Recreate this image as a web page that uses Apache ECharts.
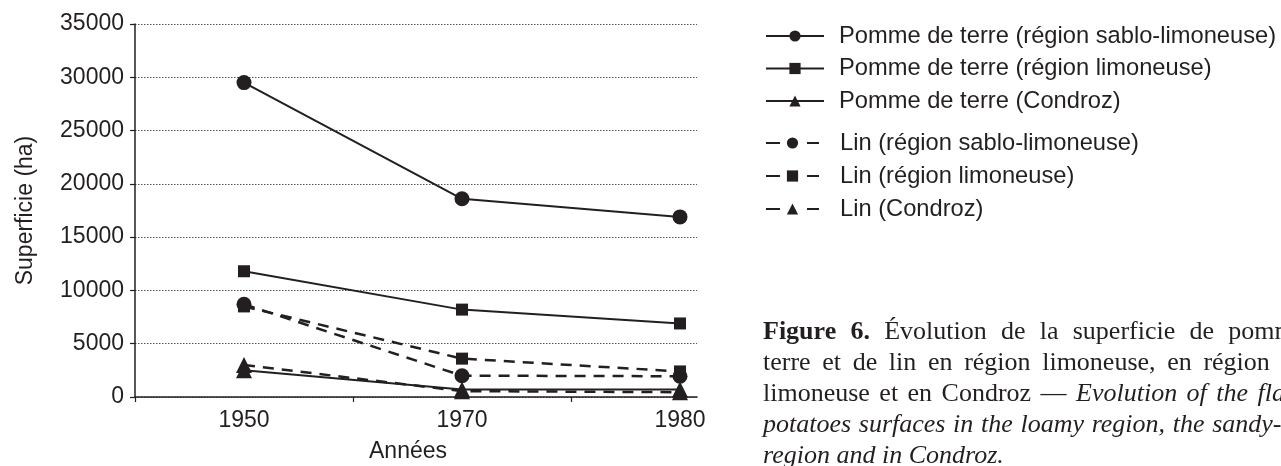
<!DOCTYPE html>
<html>
<head>
<meta charset="utf-8">
<script src="https://cdn.jsdelivr.net/npm/echarts@6/dist/echarts.min.js"></script>
<style>
  html, body { margin: 0; padding: 0; background: #fff; }
  #chart { width: 1281px; height: 466px; }
</style>
</head>
<body>
<div id="chart"></div>
<script>
// Superficie de pomme de terre et de lin, 1950-1980 (ha)
const years = ['1950', '1970', '1980'];
const pommeSablo   = [29500, 18600, 16900];
const pommeLimon   = [11800, 8200, 6900];
const pommeCondroz = [2500, 700, 700];
const linSablo     = [8700, 2000, 1950];
const linLimon     = [8500, 3600, 2400];
const linCondroz   = [3000, 550, 450];
const yMin = 0, yMax = 35000, yStep = 5000;

const INK = '#231f20';
const SANS = 'Liberation Sans';
const SERIF = 'Liberation Serif';

// plot geometry
const gridLeft = 135, gridTop = 24, plotH = 373;
const catW = 218;
const axisW = 562;            // visible axis / gridlines stop here

const chart = echarts.init(document.getElementById('chart'));

function solid(name, data, symbol, size) {
  return {
    name, type: 'line', data, xAxisIndex: 1, yAxisIndex: 1,
    symbol, symbolSize: size,
    itemStyle: { color: INK },
    lineStyle: { color: INK, width: 2 }
  };
}
function dashed(name, data, symbol, size) {
  return {
    name, type: 'line', data, xAxisIndex: 1, yAxisIndex: 1,
    symbol, symbolSize: size,
    itemStyle: { color: INK },
    lineStyle: { color: INK, width: 2.5, type: [11, 8] }
  };
}

// caption, justified like the printed page
const measure = document.createElement('canvas').getContext('2d');
function wordWidth(w) { measure.font = w.font; return measure.measureText(w.t).width; }
const cap = 26;
const fR = cap + 'px "' + SERIF + '"';
const fB = 'bold ' + fR;
const fI = 'italic ' + fR;
const capLines = [
  { y: 332, justify: true, words: [['Figure', fB], ['6.', fB], ['Évolution', fR], ['de', fR], ['la', fR], ['superficie', fR], ['de', fR], ['pomme', fR], ['de', fR]] },
  { y: 363, justify: true, words: [['terre', fR], ['et', fR], ['de', fR], ['lin', fR], ['en', fR], ['région', fR], ['limoneuse,', fR], ['en', fR], ['région', fR], ['sablo-', fR]] },
  { y: 394, justify: true, words: [['limoneuse', fR], ['et', fR], ['en', fR], ['Condroz', fR], ['—', fR], ['Evolution', fI], ['of', fI], ['the', fI], ['flax', fI], ['and', fI]] },
  { y: 425, justify: true, words: [['potatoes', fI], ['surfaces', fI], ['in', fI], ['the', fI], ['loamy', fI], ['region,', fI], ['the', fI], ['sandy-loamy', fI]] },
  { y: 456, justify: false, words: [['region', fI], ['and', fI], ['in', fI], ['Condroz.', fI]] }
];
const capX = 763, capR = 1345;
const graphics = [];
capLines.forEach(line => {
  const ws = line.words.map(([t, font]) => ({ t, font }));
  ws.forEach(w => { w.w = wordWidth(w); });
  const total = ws.reduce((s, w) => s + w.w, 0);
  const gap = line.justify ? (capR - capX - total) / (ws.length - 1) : wordWidth({ t: ' ', font: fR });
  let x = capX;
  ws.forEach(w => {
    graphics.push({
      type: 'text', x, y: line.y, silent: true,
      style: { text: w.t, font: w.font, fill: INK, verticalAlign: 'middle' }
    });
    x += w.w + gap;
  });
});

const legendText = { fontSize: 23.7, color: INK, fontFamily: SANS, lineHeight: 26 };

chart.setOption({
  animation: false,
  backgroundColor: '#ffffff',
  textStyle: { fontFamily: SANS },
  grid: [
    { left: gridLeft, top: gridTop, width: axisW, height: plotH, outerBoundsMode: 'none', containLabel: false },
    { left: gridLeft, top: gridTop, width: catW * years.length, height: plotH, outerBoundsMode: 'none', containLabel: false }
  ],
  xAxis: [
    {
      gridIndex: 0, type: 'value', min: 0, max: axisW / catW, interval: 1,
      name: 'Années', nameLocation: 'middle', nameGap: 43,
      nameTextStyle: { fontSize: 23, color: INK, fontFamily: SANS, padding: [0, 16, 0, 0] },
      axisLine: { show: true, lineStyle: { color: INK, width: 1.5 } },
      axisTick: { show: true, length: 5, customValues: [0, 1, 2], lineStyle: { color: INK, width: 1.2 } },
      axisLabel: { show: false },
      splitLine: { show: false }
    },
    {
      gridIndex: 1, type: 'category', data: years, boundaryGap: true,
      axisLine: { show: false }, axisTick: { show: false },
      axisLabel: { fontSize: 23, color: INK, margin: 12, fontFamily: SANS },
      splitLine: { show: false }
    }
  ],
  yAxis: [
    {
      gridIndex: 0, type: 'value', min: yMin, max: yMax, interval: yStep,
      name: 'Superficie (ha)', nameLocation: 'middle', nameGap: 98, nameRotate: 90,
      nameTextStyle: { fontSize: 23, color: INK, fontFamily: SANS },
      axisLine: { show: true, lineStyle: { color: INK, width: 1.5 } },
      axisTick: { show: true, length: 5, lineStyle: { color: INK, width: 1.2 } },
      axisLabel: { fontSize: 23, color: INK, margin: 11, fontFamily: SANS, formatter: v => String(v) },
      splitLine: { show: true, lineStyle: { color: '#555', width: 1, type: [1.5, 1.5] } }
    },
    {
      gridIndex: 1, type: 'value', min: yMin, max: yMax, show: false,
      splitLine: { show: false }
    }
  ],
  legend: [
    {
      orient: 'vertical', left: 760, top: 18,
      data: ['Pomme de terre (région sablo-limoneuse)', 'Pomme de terre (région limoneuse)', 'Pomme de terre (Condroz)'],
      itemWidth: 58, itemHeight: 14, itemGap: 6.5,
      textStyle: Object.assign({ padding: [0, 0, 0, 10] }, legendText)
    },
    {
      orient: 'vertical', left: 760, top: 125,
      data: ['Lin (région sablo-limoneuse)', 'Lin (région limoneuse)', 'Lin (Condroz)'],
      itemWidth: 53, itemHeight: 14, itemGap: 7,
      lineStyle: { type: [14, 27] },
      textStyle: Object.assign({ padding: [0, 0, 0, 16] }, legendText)
    }
  ],
  series: [
    solid('Pomme de terre (région sablo-limoneuse)', pommeSablo, 'circle', 15),
    solid('Pomme de terre (région limoneuse)', pommeLimon, 'rect', 12),
    solid('Pomme de terre (Condroz)', pommeCondroz, 'triangle', 16),
    dashed('Lin (région sablo-limoneuse)', linSablo, 'circle', 15),
    dashed('Lin (région limoneuse)', linLimon, 'rect', 12),
    dashed('Lin (Condroz)', linCondroz, 'triangle', 16)
  ],
  graphic: graphics
});
</script>
</body>
</html>
